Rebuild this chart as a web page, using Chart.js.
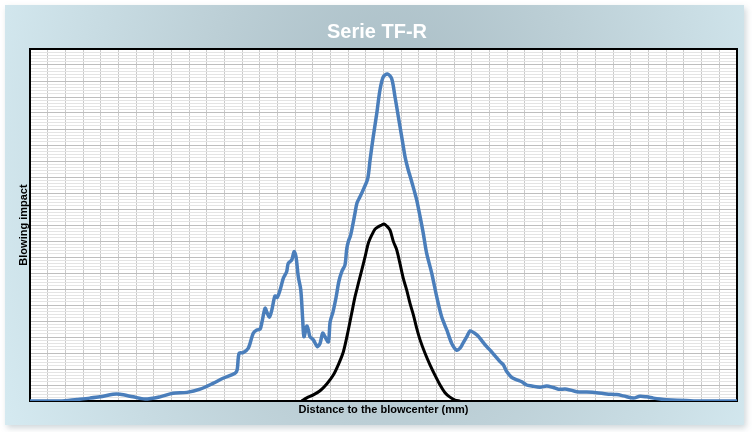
<!DOCTYPE html>
<html>
<head>
<meta charset="utf-8">
<script src="https://cdn.jsdelivr.net/npm/chart.js@4"></script>
<style>
  html, body { margin: 0; padding: 0; background: #fff; }
  #frame {
    position: absolute; left: 5px; top: 5px; width: 739px; height: 420px;
    background: radial-gradient(ellipse 430px 620px at 385px 150px, #a6bac2 0%, #bccfd6 45%, #d5eaf1 100%);
    box-shadow: 2px 3px 6px rgba(120, 140, 150, 0.35);
  }
  #wrap { position: absolute; left: 0; top: 0; width: 752px; height: 432px; }
</style>
</head>
<body>
<div id="frame"></div>
<div id="wrap"><canvas id="chart"></canvas></div>
<script>
// ── data (x: mm, y: blowing impact, arbitrary units) ──

const TITLE = "Serie TF-R";
const X_LABEL = "Distance to the blowcenter (mm)";
const Y_LABEL = "Blowing impact";

const blueX = [0, 17.0, 26.6, 33.9, 39.6, 47.0, 50.9, 58.3, 65.1, 73.6, 80.9, 88.8, 96.2, 103.5, 109.2,
  116.0, 117.2, 118.3, 120.5, 123.5, 126.3, 128.3, 130.1, 131.1, 133.0, 133.9, 135.4, 136.8, 138.6,
  139.9, 141.5, 143.3, 145.2, 146.1, 148.1, 149.4, 150.5, 151.8, 153.2, 154.3, 155.0, 156.6, 157.5,
  158.4, 160.3, 162.6, 164.1, 165.6, 166.9, 168.8, 169.8, 171.4, 173.1, 174.8, 176.5, 178.2, 179.2,
  180.2, 181.3, 182.5, 183.9, 185.0, 186.7, 189.0, 191.1, 192.4, 194.2, 196.2, 198.0, 199.9, 202.2,
  204.6, 206.5, 208.4, 210.3, 212.2, 214.0, 215.4, 217.3, 218.8, 220.7, 222.5, 224.4, 227.3, 230.1,
  232.9, 235.8, 238.6, 241.4, 243.3, 245.0, 247.3, 249.0, 251.2, 253.5, 255.7, 258.0, 260.3, 263.1,
  265.9, 267.8, 269.7, 272.5, 275.4, 278.2, 281.0, 283.9, 288.5, 292.3, 296.1, 298.9, 303.7, 309.3,
  315.0, 320.6, 326.3, 331.9, 335.7, 341.4, 345.1, 348.9, 352.7, 356.4, 360.2, 379.1, 400];
const blueY = [0, 0, 0.5, 0.9, 1.3, 2.1, 2.1, 1.3, 0.6, 1.3, 2.4, 2.7, 3.7, 5.5, 7.1,
  8.7, 9.7, 14.9, 15.1, 16.5, 21.2, 22.2, 22.4, 24.3, 29.0, 27.9, 26.2, 28.4, 32.8,
  32.4, 34.7, 38.3, 40.4, 43.0, 44.1, 46.7, 45.1, 38.8, 34.7, 25.3, 20.1, 23.4, 22.2,
  20.1, 19.1, 17.0, 18.0, 21.2, 20.1, 18.5, 24.7, 27.8, 32.2, 37.5, 40.6, 42.5, 47.5,
  50.0, 51.6, 54.7, 58.8, 61.9, 63.8, 66.6, 69.6, 75.3, 82.6, 89.9, 97.2, 101.3, 102.2,
  100.8, 95.1, 88.8, 82.6, 76.3, 72.2, 69.6, 65.9, 62.8, 57.6, 52.4, 46.2, 39.9, 32.6,
  26.3, 22.2, 18.0, 15.9, 16.5, 18.1, 20.3, 21.9, 21.3, 20.3, 18.8, 17.2, 15.9, 14.1,
  12.3, 11.3, 9.2, 7.4, 6.6, 6.0, 5.0, 4.7, 4.3, 4.7, 4.2, 3.7, 3.7, 2.9,
  2.8, 2.6, 2.2, 2.0, 1.6, 0.9, 1.5, 1.3, 0.9, 0.6, 0.4, 0, 0];

const blackX = [153.7, 156.6, 160.3, 164.1, 167.9, 171.6, 174.4, 177.3, 180.1, 182.0, 183.9, 185.8,
  187.7, 189.6, 191.4, 193.4, 195.2, 197.1, 199.0, 200.3, 201.8, 203.7, 205.6, 207.5, 209.3, 211.2,
  213.1, 215.0, 216.9, 218.8, 220.7, 223.5, 226.3, 229.1, 232.0, 234.8, 237.6, 240.5, 243.3];
const blackY = [0, 1.0, 1.9, 3.2, 5.3, 8.1, 11.3, 15.4, 22.2, 27.4, 32.6, 36.8,
  40.9, 45.1, 49.3, 51.9, 53.7, 54.5, 55.0, 55.3, 54.7, 53.4, 49.8, 47.2, 43.0, 38.3,
  34.7, 30.5, 26.9, 22.7, 19.1, 14.9, 11.3, 8.1, 5.0, 2.6, 1.2, 0.3, 0];

const X_MIN = 0, X_MAX = 400, X_STEP = 10;
const Y_MIN = 0, Y_MAX = 110, Y_MAJOR = 5, Y_MINOR = 1;

const toPoints = (xs, ys) => xs.map((x, i) => ({ x, y: ys[i] }));

// ── plot background, frame and texts ──

const decor = {
  id: "decor",
  beforeDraw(chart) {
    const { ctx, chartArea: a } = chart;
    ctx.save();
    ctx.fillStyle = "#ffffff";
    ctx.fillRect(a.left, a.top, a.right - a.left, a.bottom - a.top);
    ctx.restore();
  },
  beforeDatasetsDraw(chart) {
    const { ctx, chartArea: a } = chart;
    ctx.save();
    ctx.strokeStyle = "#000";
    ctx.lineWidth = 2;
    ctx.strokeRect(a.left, a.top, a.right - a.left, a.bottom - a.top);
    ctx.restore();
  },
  afterDraw(chart) {
    const { ctx, chartArea: a } = chart;
    ctx.save();
    ctx.fillStyle = "#ffffff";
    ctx.textAlign = "center";
    ctx.textBaseline = "alphabetic";
    ctx.font = "bold 20px 'Liberation Sans', Arial, sans-serif";
    ctx.fillText(TITLE, 377, 38);

    ctx.fillStyle = "#000";
    ctx.font = "bold 11px 'Liberation Sans', Arial, sans-serif";
    ctx.fillText(X_LABEL, (a.left + a.right) / 2, 413);

    ctx.translate(27, (a.top + a.bottom) / 2);
    ctx.rotate(-Math.PI / 2);
    ctx.fillText(Y_LABEL, 0, 0);
    ctx.restore();
  },
};

new Chart(document.getElementById("chart"), {
  type: "line",
  data: {
    datasets: [
      {
        label: "Blowing impact",
        data: toPoints(blueX, blueY),
        borderColor: "#4a7ebb",
        borderWidth: 3.5,
        pointRadius: 0,
        tension: 0.3,
        fill: false,
      },
      {
        label: "Reference",
        data: toPoints(blackX, blackY),
        borderColor: "#000000",
        borderWidth: 3,
        pointRadius: 0,
        tension: 0.3,
        fill: false,
      },
    ],
  },
  options: {
    responsive: true,
    maintainAspectRatio: false,
    animation: false,
    events: [],
    layout: { padding: { left: 30, top: 49, right: 15, bottom: 31 } },
    scales: {
      x: {
        type: "linear",
        min: X_MIN,
        max: X_MAX,
        ticks: { display: false, stepSize: X_STEP, maxTicksLimit: 100 },
        grid: { color: "#cacaca", lineWidth: 1, drawTicks: false },
        border: { display: false },
      },
      y: {
        min: Y_MIN,
        max: Y_MAX,
        ticks: { display: false, stepSize: Y_MAJOR, maxTicksLimit: 100 },
        grid: { color: "#bebebe", lineWidth: 1, drawTicks: false },
        border: { display: false },
      },
      y2: {
        position: "left",
        min: Y_MIN,
        max: Y_MAX,
        ticks: { display: false, stepSize: Y_MINOR, maxTicksLimit: 200 },
        grid: {
          color: (c) => (c.tick && c.tick.value % Y_MAJOR === 0 ? "rgba(0,0,0,0)" : "#e4e4e4"),
          lineWidth: 1,
          drawTicks: false,
        },
        border: { display: false },
      },
    },
    plugins: {
      legend: { display: false },
      tooltip: { enabled: false },
    },
  },
  plugins: [decor],
});
</script>
</body>
</html>
